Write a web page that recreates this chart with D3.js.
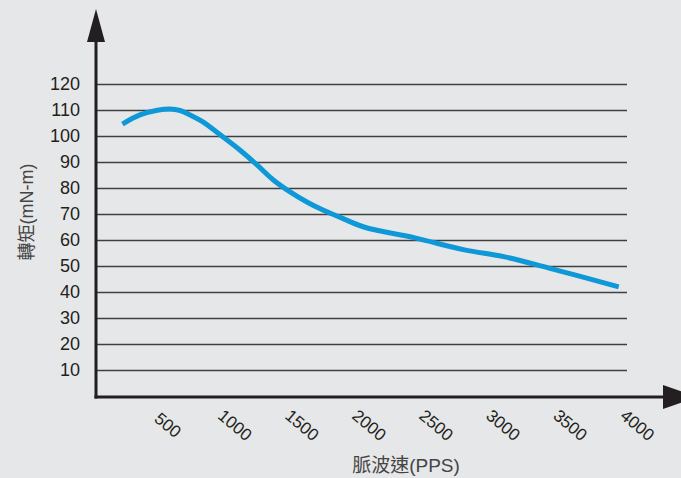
<!DOCTYPE html>
<html><head><meta charset="utf-8">
<script src="https://cdn.jsdelivr.net/npm/d3@7"></script>
<style>
html,body{margin:0;padding:0;background:#e6e7e8;}
svg{display:block;}
text{font-family:Arial,"Liberation Sans",sans-serif;}
</style></head>
<body>
<script>
const speeds = [160, 290, 420, 515, 590, 665, 760, 910, 1035, 1165, 1285, 1410, 1535, 1655, 1780, 1960, 2340, 2710, 3010, 3340, 3860];
const torques = [104.6, 108.1, 109.9, 110.4, 109.8, 108.1, 105.4, 99.6, 94.6, 88.8, 83.1, 78.5, 74.6, 71.5, 68.8, 65, 60.8, 56.2, 53.5, 49.2, 42];
const yTicks = [10, 20, 30, 40, 50, 60, 70, 80, 90, 100, 110, 120];
const xTicks = [500, 1000, 1500, 2000, 2500, 3000, 3500, 4000];
const yTitle = "轉矩(mN-m)";
const xTitle = "脈波速(PPS)";

const W = 681, H = 478;
const svg = d3.select("body").append("svg").attr("width", W).attr("height", H);
svg.append("rect").attr("width", W).attr("height", H).attr("fill", "#e6e7e8");

const x = d3.scaleLinear().domain([0, 4000]).range([101, 637.5]);
const y = d3.scaleLinear().domain([0, 120]).range([396, 84]);
const axisX = 96, axisY = 397, gridEnd = 627;

// gridlines
svg.append("g").selectAll("line").data(yTicks).join("line")
  .attr("x1", axisX).attr("x2", gridEnd)
  .attr("y1", d => Math.round(y(d)) + 0.5).attr("y2", d => Math.round(y(d)) + 0.5)
  .attr("stroke", "#404040").attr("stroke-width", 1.3);

// y tick labels
svg.append("g").selectAll("text").data(yTicks).join("text")
  .attr("x", 80).attr("y", d => y(d)).attr("dy", "0.35em")
  .attr("text-anchor", "end").attr("font-size", 18).attr("fill", "#231f20")
  .text(d => d);

// x tick labels (rotated)
svg.append("g").selectAll("text").data(xTicks).join("text")
  .attr("transform", d => `translate(${x(d)},425) rotate(40)`)
  .attr("text-anchor", "middle").attr("dy", "0.35em")
  .attr("font-size", 17).attr("fill", "#231f20")
  .text(d => d);

// curve
const line = d3.line().x((d, i) => x(speeds[i])).y(d => y(d)).curve(d3.curveCatmullRom.alpha(0.5));
svg.append("path").datum(torques).attr("d", line)
  .attr("fill", "none").attr("stroke", "#0f98d8").attr("stroke-width", 5);

// axes
svg.append("line").attr("x1", axisX).attr("x2", axisX).attr("y1", axisY + 1.5).attr("y2", 40)
  .attr("stroke", "#231f20").attr("stroke-width", 3);
svg.append("path").attr("d", `M${axisX},9 L${axisX + 9},42 L${axisX - 9},42 Z`).attr("fill", "#231f20");
svg.append("line").attr("x1", axisX - 1.5).attr("x2", 666).attr("y1", axisY).attr("y2", axisY)
  .attr("stroke", "#231f20").attr("stroke-width", 3);
svg.append("path").attr("d", `M663,385 L697,${axisY} L663,409 Z`).attr("fill", "#231f20");

// titles
svg.append("text").attr("x", 406).attr("y", 472).attr("text-anchor", "middle")
  .attr("font-size", 19).attr("fill", "#444")
  .style("font-family", "Arial, 'Liberation Sans', 'Noto Sans CJK TC', sans-serif")
  .text(xTitle);
svg.append("text").attr("transform", "translate(33,212) rotate(-90)").attr("text-anchor", "middle")
  .attr("font-size", 18).attr("fill", "#444")
  .style("font-family", "Arial, 'Liberation Sans', 'Noto Sans CJK TC', sans-serif")
  .text(yTitle);
</script>
</body></html>
